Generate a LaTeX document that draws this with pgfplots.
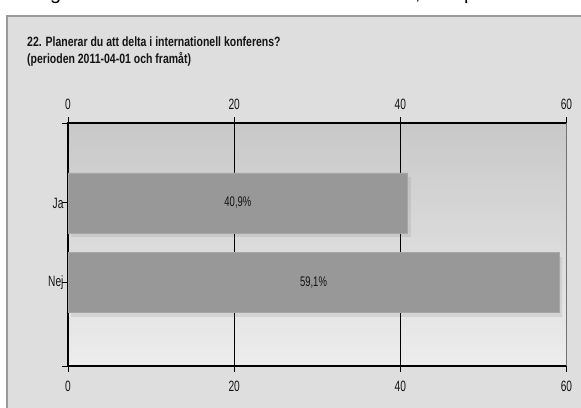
\documentclass[border=0pt]{standalone}
\usepackage{pgfplots}
\pgfplotsset{compat=1.18}
\usepackage{fontspec}
\setmainfont{Liberation Sans}
\newfontfamily\nf{Liberation Sans}[FakeStretch=0.68]
\newfontfamily\tf{Liberation Sans}[FakeStretch=0.78]
\definecolor{outerbg}{HTML}{DEDEDE}
\definecolor{framec}{HTML}{9A9A9A}
\definecolor{gtop}{HTML}{C8C8C8}
\definecolor{gbot}{HTML}{EDEDED}
\definecolor{barc}{HTML}{989898}
\definecolor{baredge}{HTML}{A6A6A6}
\definecolor{txt}{HTML}{141414}
\begin{document}
\begin{tikzpicture}
\useasboundingbox (0,0) rectangle (581bp,-408bp);
\fill[white] (0,0) rectangle (581bp,-408bp);
\begin{scope}
\clip (0,0) rectangle (581bp,-15bp);
\node[anchor=base west, inner sep=0pt, font=\fontsize{20}{22}\selectfont] at (50bp,1bp) {g};
\node[anchor=base west, inner sep=0pt, font=\fontsize{20}{22}\selectfont] at (415bp,1bp) {,};
\node[anchor=base west, inner sep=0pt, font=\fontsize{20}{22}\selectfont] at (464bp,1bp) {p};
\end{scope}
\fill[outerbg] (7bp,-16bp) rectangle (581bp,-408bp);
\draw[framec, line width=1.3bp] (7bp,-408bp) -- (7bp,-16bp) -- (581bp,-16bp);
\node[anchor=base west, inner sep=0pt, text=txt, font=\tf\bfseries\fontsize{13.5}{16}\selectfont] at (27bp,-46bp) {22. Planerar du att delta i internationell konferens?};
\node[anchor=base west, inner sep=0pt, text=txt, font=\tf\bfseries\fontsize{13.5}{16}\selectfont] at (27bp,-63bp) {(perioden 2011-04-01 och framåt)};
\begin{axis}[
  at={(68bp,-366bp)}, anchor=south west,
  scale only axis, width=498.5bp, height=243bp,
  xmin=0, xmax=60, ymin=-1, ymax=2.04,
  y dir=reverse,
  xtick={0,20,40,60},
  ytick={-1,0,1,2.04}, yticklabels={,Ja,Nej,},
  ytick pos=left, xtick pos=both,
  tick align=outside,
  major tick length=6bp,
  tick style={black, line width=0.9bp},
  axis line style={black, line width=1.3bp},
  xmajorgrids, major x grid style={black, line width=0.8bp},
  axis background/.style={shade, top color=gtop, bottom color=gbot},
  /pgf/number format/assume math mode=true,
  ticklabel style={font=\nf\fontsize{15}{17}\selectfont, text=txt},
  xticklabel style={yshift=-6bp},
  yticklabel style={xshift=5bp},
  clip=false,
]
\addplot[xbar, bar width=60bp, bar shift=0pt, draw=none, fill=black, fill opacity=0.07, xshift=3bp, yshift=-4bp, forget plot]
  coordinates {(40.9,0) (59.1,1)};
\addplot[xbar, bar width=60bp, bar shift=0pt, draw=baredge, line width=0.8bp, fill=barc]
  coordinates {(40.9,0) (59.1,1)};
\addplot[draw=none, mark=none, nodes near coords, point meta=explicit symbolic,
  nodes near coords style={anchor=center, font=\nf\fontsize{14}{16}\selectfont, text=txt}]
  coordinates {(20.45,0) [40,9\%] (29.55,1) [59,1\%]};
\draw[draw=gray!90!black, line width=1.3bp] (rel axis cs:1,0) -- (rel axis cs:1,1);
\end{axis}
\begin{axis}[
  at={(68bp,-366bp)}, anchor=south west,
  scale only axis, width=498.5bp, height=243bp,
  xmin=0, xmax=60, ymin=-1, ymax=2.04,
  xtick={0,20,40,60}, ytick=\empty,
  xticklabel pos=upper,
  axis line style={draw=none}, tick style={draw=none},
  /pgf/number format/assume math mode=true,
  ticklabel style={font=\nf\fontsize{15}{17}\selectfont, text=txt},
  xticklabel style={yshift=10bp},
]
\end{axis}
\end{tikzpicture}
\end{document}
